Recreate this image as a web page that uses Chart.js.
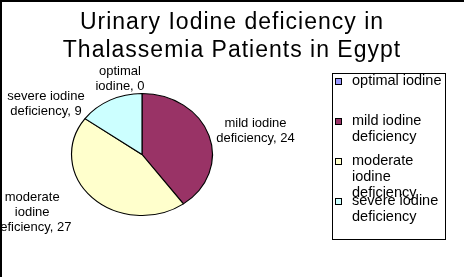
<!DOCTYPE html>
<html>
<head>
<meta charset="utf-8">
<script src="https://cdn.jsdelivr.net/npm/chart.js@4"></script>
<style>
  body { margin: 0; background: #fff; }
  #wrap { position: relative; width: 464px; height: 277px; }
  #pieChart { display: block; }
  /* the original only has a frame on the top and left edges */
  #frame { position: absolute; left: 0; top: 0; width: 464px; height: 277px; box-sizing: border-box;
           border-top: 2px solid #000; border-left: 2px solid #000; pointer-events: none; }
</style>
</head>
<body>
<div id="wrap">
  <canvas id="pieChart" width="464" height="277"></canvas>
  <div id="frame"></div>
</div>
<script>
// Dati
const categories = ['optimal iodine', 'mild iodine deficiency', 'moderate iodine deficiency', 'severe iodine deficiency'];
const counts = [0, 24, 27, 9];
const titleLines = ['Urinary Iodine deficiency in', 'Thalassemia Patients in Egypt'];
// how the texts wrap in the legend and next to the slices
const legendLines = [['optimal iodine'], ['mild iodine', 'deficiency'], ['moderate', 'iodine', 'deficiency'], ['severe iodine', 'deficiency']];
const sliceLabelLines = [['optimal', 'iodine'], ['mild iodine', 'deficiency'], ['moderate', 'iodine', 'deficiency'], ['severe iodine', 'deficiency']];

const sliceColors = ['#9999FF', '#993366', '#FFFFCC', '#CCFFFF'];
const FONT = 'Arial, "Liberation Sans", sans-serif';
const PIE_STRETCH = 1.155;   // old Excel pie is a little wider than tall
// shift of each label block centre from the slice's rim point
const labelShift = [[-22, -14.5], [46.5, -5], [-60, 15], [-64, 3.5]];

// pie drawn as an ellipse + slice labels
const ellipsePie = {
    id: 'ellipsePie',
    beforeDatasetsDraw(chart) {
        const ctx = chart.ctx;
        const arc = chart.getDatasetMeta(0).data[0];
        ctx.letterSpacing = '0px';
        ctx.save();
        ctx.translate(arc.x, arc.y);
        ctx.scale(PIE_STRETCH, 1);
        ctx.translate(-arc.x, -arc.y);
    },
    afterDatasetsDraw(chart) {
        const ctx = chart.ctx;
        ctx.restore();

        ctx.save();
        ctx.font = '13px ' + FONT;
        ctx.fillStyle = '#000';
        ctx.textAlign = 'center';
        ctx.textBaseline = 'middle';
        chart.getDatasetMeta(0).data.forEach((arc, i) => {
            const mid = (arc.startAngle + arc.endAngle) / 2;
            const px = arc.x + Math.cos(mid) * arc.outerRadius * PIE_STRETCH;
            const py = arc.y + Math.sin(mid) * arc.outerRadius;
            const lines = sliceLabelLines[i].slice();
            lines[lines.length - 1] += ', ' + counts[i];
            const cx = px + labelShift[i][0];
            const cy = py + labelShift[i][1];
            const lh = 15;
            lines.forEach((t, k) => {
                ctx.fillText(t, cx, cy - (lines.length - 1) * lh / 2 + k * lh);
            });
        });
        ctx.restore();
    }
};

// legend in a framed box on the right, reserves its own space in the layout
function drawLegend(chart) {
    const ctx = chart.ctx;
    const fx = 332, fy = 73, fw = 113, fh = 166;
    ctx.save();
    ctx.letterSpacing = '0px';
    ctx.fillStyle = '#fff';
    ctx.fillRect(fx, fy, fw, fh);
    ctx.strokeStyle = '#000';
    ctx.lineWidth = 1;
    ctx.strokeRect(fx + 0.5, fy + 0.5, fw, fh);

    ctx.font = '14.5px ' + FONT;
    ctx.textBaseline = 'middle';
    ctx.textAlign = 'left';
    categories.forEach((c, i) => {
        const y = fy + 8 + i * 40;
        ctx.fillStyle = sliceColors[i];
        ctx.fillRect(fx + 3, y - 3, 7, 7);
        ctx.strokeRect(fx + 3.5, y - 2.5, 6, 6);
        ctx.fillStyle = '#000';
        legendLines[i].forEach((t, k) => ctx.fillText(t, fx + 20, y + k * 16));
    });
    ctx.restore();
}

const sideLegend = {
    id: 'sideLegend',
    beforeInit(chart) {
        const box = {
            position: 'right',
            weight: 5,
            fullSize: false,
            options: {},
            left: 0, top: 0, right: 0, bottom: 0, width: 0, height: 0,
            isHorizontal() { return false; },
            update(maxWidth, maxHeight) {
                this.width = 180;
                this.height = maxHeight;
            },
            draw() { drawLegend(chart); }
        };
        Chart.layouts.addBox(chart, box);
    },
    beforeDraw(chart) {
        // the original title is a wide bitmap font
        chart.ctx.letterSpacing = '1px';
    }
};

const ctx = document.getElementById('pieChart').getContext('2d');
new Chart(ctx, {
    type: 'pie',
    data: {
        labels: categories,
        datasets: [{
            data: counts,
            backgroundColor: sliceColors,
            borderColor: '#000',
            borderWidth: 1,
            clip: false
        }]
    },
    options: {
        responsive: false,
        animation: false,
        events: [],
        layout: { padding: { top: 0, left: 0, right: 0, bottom: 61 } },
        plugins: {
            legend: { display: false },
            tooltip: { enabled: false },
            title: {
                display: true,
                text: titleLines,
                color: '#000',
                font: { family: FONT, size: 23, weight: 'normal', lineHeight: '28px' },
                padding: { top: 9, bottom: 28 }
            }
        }
    },
    plugins: [ellipsePie, sideLegend]
});
</script>
</body>
</html>
